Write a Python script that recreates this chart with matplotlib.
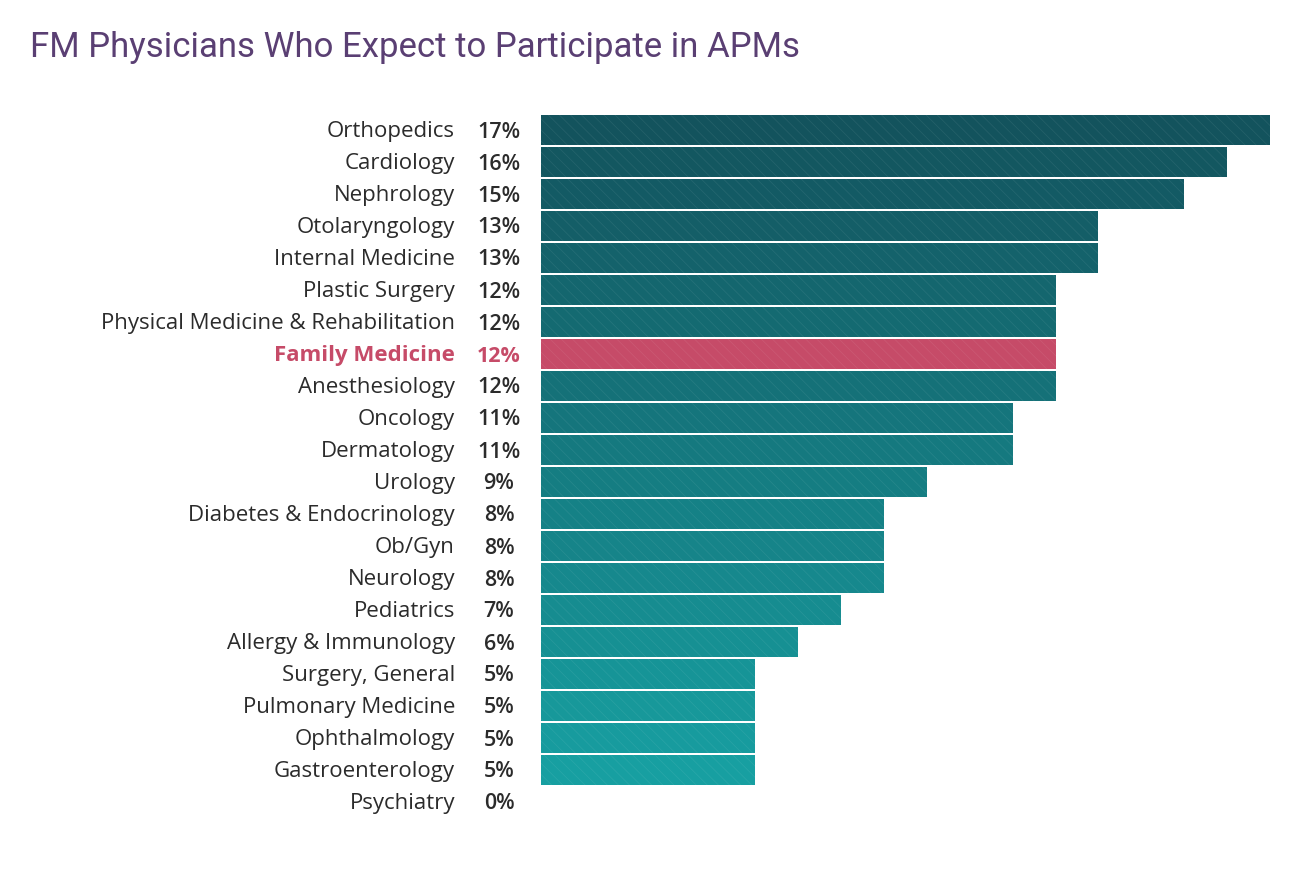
import matplotlib.pyplot as plt
import matplotlib.colors as mcolors
import numpy as np

specialties = ["Orthopedics", "Cardiology", "Nephrology", "Otolaryngology",
               "Internal Medicine", "Plastic Surgery",
               "Physical Medicine & Rehabilitation", "Family Medicine",
               "Anesthesiology", "Oncology", "Dermatology", "Urology",
               "Diabetes & Endocrinology", "Ob/Gyn", "Neurology", "Pediatrics",
               "Allergy & Immunology", "Surgery, General", "Pulmonary Medicine",
               "Ophthalmology", "Gastroenterology", "Psychiatry"]
percents = [17, 16, 15, 13, 13, 12, 12, 12, 12, 11, 11, 9, 8, 8, 8, 7, 6, 5, 5, 5, 5, 0]
highlight = "Family Medicine"

W, H = 1290, 878
plt.rcParams["hatch.color"] = (1, 1, 1, 0.07)
plt.rcParams["hatch.linewidth"] = 0.6
fig = plt.figure(figsize=(W / 100, H / 100), dpi=100)
ax = fig.add_axes([541 / W, 1 - 819 / H, 729 / W, 704 / H])

cmap = mcolors.LinearSegmentedColormap.from_list("teal", ["#13535d", "#179fa1"])
n = len(specialties)
for i, (name, val) in enumerate(zip(specialties, percents)):
    color = "#c64b68" if name == highlight else cmap(i / (n - 2))
    ax.barh(i, val, height=0.93, color=color, hatch="\\\\\\", linewidth=0)
    tcol = "#c64b68" if name == highlight else "#2b2b2b"
    weight = "bold" if name == highlight else "normal"
    yy = 1 - (132 + 32 * i) / H
    ax.text(455 / W, yy, name, transform=fig.transFigure,
            ha="right", va="center", fontsize=16, color=tcol,
            family="Open Sans", fontweight=weight)
    ax.text(499 / W, yy, f"{val}%", transform=fig.transFigure,
            ha="center", va="center", fontsize=15.5, color=tcol,
            family="Open Sans", fontweight="semibold" if name != highlight else "bold")

ax.set_xlim(0, 17)
ax.set_ylim(n - 0.5, -0.5)
ax.axis("off")

fig.text(30 / W, 1 - 47 / H, "FM Physicians Who Expect to Participate in APMs",
         ha="left", va="center", fontsize=25, color="#5a3f73", family="Roboto")

fig.savefig("out.png", dpi=100)
